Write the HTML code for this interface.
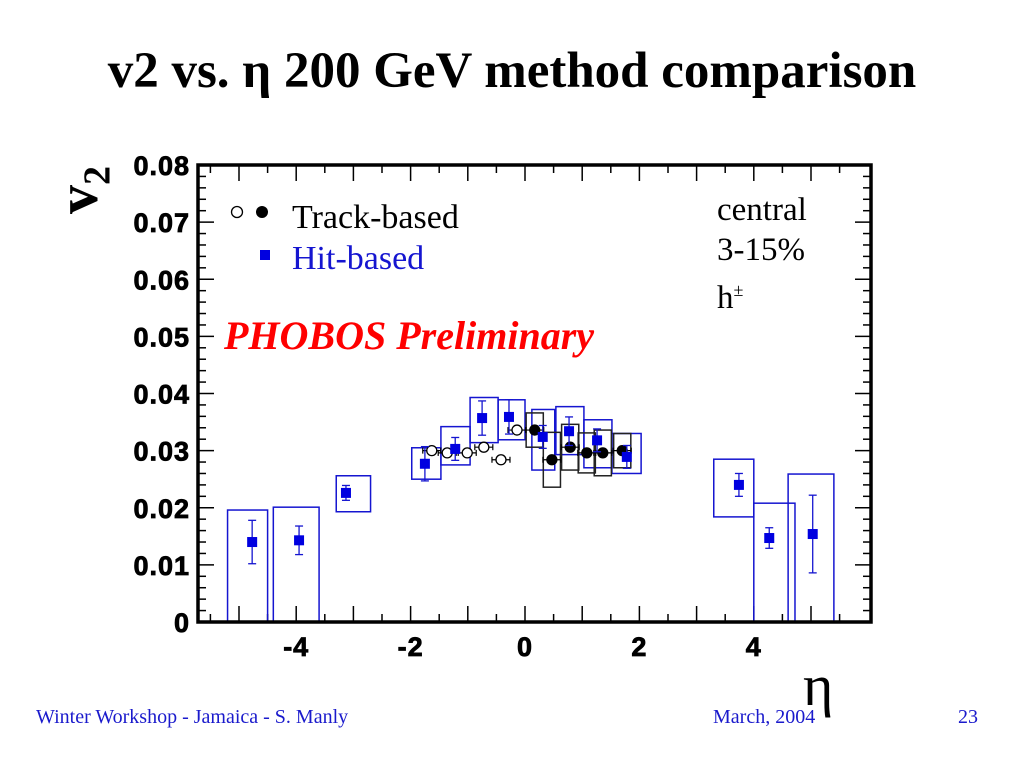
<!DOCTYPE html>
<html><head><meta charset="utf-8"><style>
body{margin:0;width:1024px;height:768px;background:#fff;overflow:hidden;position:relative;font-family:"Liberation Serif",serif}
.t{position:absolute;white-space:nowrap}
</style></head><body>
<div class="t" style="left:0;width:1024px;text-align:center;top:42px;font-size:51px;font-weight:bold">v2 vs. η 200 GeV method comparison</div>
<div class="t" style="left:36px;top:706px;font-size:20px;color:#1a1acc">Winter Workshop - Jamaica - S. Manly</div>
<div class="t" style="left:713px;top:706px;font-size:20px;color:#1a1acc">March, 2004</div>
<div class="t" style="left:958px;top:706px;font-size:20px;color:#1a1acc">23</div>
<svg id="c" width="1024" height="768" style="position:absolute;left:0;top:0"></svg>
<script>
const hitEta=[-4.77,-3.95,-3.13,-1.75,-1.22,-0.75,-0.28,0.31,0.77,1.26,1.78,3.74,4.27,5.03];
const hitV2=[0.0140,0.0143,0.0226,0.0277,0.0303,0.0357,0.0359,0.0324,0.0334,0.0318,0.0289,0.0240,0.0147,0.0154];
const hitErr=[0.0038,0.0025,0.0013,0.0030,0.0020,0.0030,0.0030,0.0020,0.0025,0.0020,0.0020,0.0020,0.0018,0.0068];
const hitBoxLo=[-5.2,-4.4,-3.3,-1.98,-1.47,-0.96,-0.47,0.12,0.54,1.03,1.52,3.3,4.0,4.6];
const hitBoxHi=[-4.5,-3.6,-2.7,-1.47,-0.96,-0.47,0.0,0.52,1.03,1.52,2.03,4.0,4.72,5.4];
const hitSysHi=[0.0196,0.0201,0.0256,0.0305,0.0342,0.0393,0.0389,0.0372,0.0377,0.0354,0.0330,0.0285,0.0208,0.0259];
const hitSysLo=[0,0,0.0193,0.0250,0.0275,0.0314,0.0319,0.0266,0.0293,0.0270,0.0260,0.0184,0,0];
const trkEta=[-1.63,-1.36,-1.01,-0.72,-0.42,-0.14,0.17,0.47,0.79,1.08,1.36,1.70];
const trkV2=[0.0300,0.0296,0.0296,0.0306,0.0284,0.0336,0.0336,0.0284,0.0306,0.0296,0.0296,0.0300];
const trkSys=[0.003,0.003,0.003,0.003,0.003,0.003,0.0030,0.0048,0.0040,0.0035,0.0040,0.0030];
const yTicks=["0","0.01","0.02","0.03","0.04","0.05","0.06","0.07","0.08"];
const xTicks=["-4","-2","0","2","4"];
const X0=198,X1=871,Y0=622,Y1=165;
const X=e=>525+e*57.2, Y=v=>Y0-(v/0.08)*(Y0-Y1);
const svg=document.getElementById('c'),NS='http://www.w3.org/2000/svg';
function mk(t,a,p){const e=document.createElementNS(NS,t);for(const k in a)e.setAttribute(k,a[k]);(p||svg).appendChild(e);return e;}
for(let i=0;i<=40;i++){const v=i*0.002,y=Y(v),L=i%5==0?16:8;
 mk('line',{x1:X0,x2:X0+L,y1:y,y2:y,stroke:'#000','stroke-width':1.5});
 mk('line',{x1:X1,x2:X1-L,y1:y,y2:y,stroke:'#000','stroke-width':1.5});}
for(let i=-11;i<=11;i++){const e=i*0.5,x=X(e);if(x<X0||x>X1)continue;const L=i%2==0?16:8;
 mk('line',{x1:x,x2:x,y1:Y0,y2:Y0-L,stroke:'#000','stroke-width':1.5});
 mk('line',{x1:x,x2:x,y1:Y1,y2:Y1+L,stroke:'#000','stroke-width':1.5});}
yTicks.forEach((s,i)=>{const t=mk('text',{x:190,y:Y(i*0.01)+10,'text-anchor':'end','font-family':'Liberation Sans,sans-serif','font-size':27,'font-weight':'bold','letter-spacing':1,stroke:'#000','stroke-width':0.8});t.textContent=s;

});
xTicks.forEach(s=>{const t=mk('text',{x:X(+s),y:656,'text-anchor':'middle','font-family':'Liberation Sans,sans-serif','font-size':27,'font-weight':'bold','letter-spacing':1,stroke:'#000','stroke-width':0.8});t.textContent=s;

});
hitEta.forEach((e,i)=>{const r=mk('rect',{x:X(hitBoxLo[i]),y:Y(hitSysHi[i]),width:X(hitBoxHi[i])-X(hitBoxLo[i]),height:Y(hitSysLo[i])-Y(hitSysHi[i]),fill:'none',stroke:'#1515d0','stroke-width':1.5});

});
trkEta.forEach((e,i)=>{if(e<0)return;const w=0.15;const r=mk('rect',{x:X(e-w),y:Y(trkV2[i]+trkSys[i]),width:X(e+w)-X(e-w),height:Y(trkV2[i]-trkSys[i])-Y(trkV2[i]+trkSys[i]),fill:'none',stroke:'#222','stroke-width':1.5});

});
trkEta.forEach((e,i)=>{const x=X(e),y=Y(trkV2[i]);
 mk('line',{x1:x-9,x2:x+9,y1:y,y2:y,stroke:'#000','stroke-width':1.2});
 mk('line',{x1:x-9,x2:x-9,y1:y-3,y2:y+3,stroke:'#000','stroke-width':1.2});
 mk('line',{x1:x+9,x2:x+9,y1:y-3,y2:y+3,stroke:'#000','stroke-width':1.2});
 const c=mk('circle',{cx:x,cy:y,r:5,fill:e<0?'#fff':'#000',stroke:'#000','stroke-width':1.3});
 
 });
hitEta.forEach((e,i)=>{const x=X(e),y=Y(hitV2[i]),a=Y(hitV2[i]+hitErr[i]),b=Y(hitV2[i]-hitErr[i]);
 mk('line',{x1:x,x2:x,y1:a,y2:b,stroke:'#1515d0','stroke-width':1.3});
 mk('line',{x1:x-4,x2:x+4,y1:a,y2:a,stroke:'#1515d0','stroke-width':1.3});
 mk('line',{x1:x-4,x2:x+4,y1:b,y2:b,stroke:'#1515d0','stroke-width':1.3});
 const r=mk('rect',{x:x-5,y:y-5,width:10,height:10,fill:'#0000e0'});
 
 });
mk('rect',{x:X0,y:Y1,width:X1-X0,height:Y0-Y1,fill:'none',stroke:'#000','stroke-width':3.5});
mk('circle',{cx:237,cy:212,r:5.5,fill:'#fff',stroke:'#000','stroke-width':1.3});
mk('circle',{cx:262,cy:212,r:6,fill:'#000'});
</script>
<div class="t" style="left:44px;top:142px;font-size:58px;font-weight:bold;transform:rotate(-90deg);transform-origin:36px 36px">v<sub style="font-size:38px">2</sub></div>
<div class="t" style="left:803px;top:652px;font-size:58px">η</div>
<div>
<div class="t" style="left:260px;top:250px;width:10px;height:10px;background:#0000e0"></div>
<div class="t" style="left:292px;top:199px;font-size:34px">Track-based</div>
<div class="t" style="left:292px;top:240px;font-size:34px;color:#1515d0">Hit-based</div>
</div>
<div class="t" style="left:224px;top:312px;font-size:40px;font-weight:bold;font-style:italic;color:#f00">PHOBOS Preliminary</div>
<div class="t" style="left:717px;top:190px;font-size:33px;line-height:40px">central<br>3-15%<br>h<sup style="font-size:18px">±</sup></div>
</body></html>
